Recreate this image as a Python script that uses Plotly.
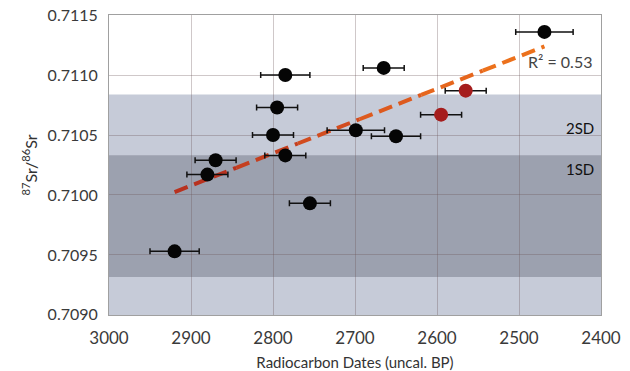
import numpy as np
import plotly.graph_objects as go

# Data
dates = [2469, 2785, 2665, 2795, 2565, 2595, 2800, 2699, 2650, 2785, 2870, 2880, 2755, 2920]
sr = [0.71136, 0.71100, 0.71106, 0.71073, 0.71087, 0.71067, 0.71050, 0.71054,
      0.71049, 0.71033, 0.71029, 0.71017, 0.70993, 0.70953]
date_err = [35, 30, 25, 25, 25, 25, 25, 35, 30, 25, 25, 25, 25, 30]
highlight = [False, False, False, False, True, True, False, False, False, False,
             False, False, False, False]

band_mean = 0.709823
band_sd = 0.000508
x_ticks = [3000, 2900, 2800, 2700, 2600, 2500, 2400]
y_ticks = [0.7090, 0.7095, 0.7100, 0.7105, 0.7110, 0.7115]
r2_label = "R\u00b2 = 0.53"

fig = go.Figure()

# Bands (2SD and 1SD)
fig.add_shape(type="rect", xref="x", yref="y", x0=3000, x1=2400,
              y0=band_mean - 2 * band_sd, y1=band_mean + 2 * band_sd,
              fillcolor="#c6cbd8", line_width=0, layer="below")
fig.add_shape(type="rect", xref="x", yref="y", x0=3000, x1=2400,
              y0=band_mean - band_sd, y1=band_mean + band_sd,
              fillcolor="#9ca1af", line_width=0, layer="below")

# Trend line (least squares) drawn in colour-graded dashed segments
slope, intercept = np.polyfit(dates, sr, 1)
x0, x1 = max(dates), min(dates)
n_seg = 6
cols = ["#b8321f", "#c53f1f", "#d24c1f", "#dd5a1e", "#e6661d", "#ec711c"]
for i in range(n_seg):
    xa = x0 + (x1 - x0) * i / n_seg
    xb = x0 + (x1 - x0) * (i + 1) / n_seg
    fig.add_trace(go.Scatter(
        x=[xa, xb], y=[slope * xa + intercept, slope * xb + intercept],
        mode="lines", line=dict(color=cols[i], width=4, dash="14px,7px"),
        hoverinfo="skip", showlegend=False))

xs_b = [d for d, h in zip(dates, highlight) if not h]
ys_b = [s for s, h in zip(sr, highlight) if not h]
es_b = [e for e, h in zip(date_err, highlight) if not h]
xs_r = [d for d, h in zip(dates, highlight) if h]
ys_r = [s for s, h in zip(sr, highlight) if h]
es_r = [e for e, h in zip(date_err, highlight) if h]

err_style = dict(type="data", thickness=1.5, width=3, color="#111111")
fig.add_trace(go.Scatter(
    x=xs_b, y=ys_b, mode="markers",
    marker=dict(color="#050505", size=14),
    error_x=dict(array=es_b, **err_style), showlegend=False))
fig.add_trace(go.Scatter(
    x=xs_r, y=ys_r, mode="markers",
    marker=dict(color="#a51d1d", size=14),
    error_x=dict(array=es_r, **err_style), showlegend=False))

fig.add_annotation(x=2491, y=0.71111, xref="x", yref="y", text=r2_label,
                   showarrow=False, xanchor="left",
                   font=dict(family="Lato", size=16, color="#444444"))
fig.add_annotation(x=2406, y=0.71056, xref="x", yref="y", text="2SD",
                   showarrow=False, xanchor="right",
                   font=dict(family="Lato", size=15, color="#111111"))
fig.add_annotation(x=2406, y=0.71022, xref="x", yref="y", text="1SD",
                   showarrow=False, xanchor="right",
                   font=dict(family="Lato", size=15, color="#111111"))

# page body has an 8px margin, so the figure is offset by 8px right/down
fig.update_layout(
    width=630, height=371,
    margin=dict(l=101, r=37, t=7, b=64),
    paper_bgcolor="white", plot_bgcolor="white",
    font=dict(family="Lato", size=17, color="#3a3a3a"),
    showlegend=False,
)
grid = "rgba(105,85,88,0.32)"
fig.update_xaxes(
    range=[3000.001, 2399.999], tickvals=x_ticks, ticktext=[str(v) for v in x_ticks],
    showgrid=True, gridcolor=grid, gridwidth=1,
    showline=True, linecolor="#a0a0a0", linewidth=1, mirror=True,
    zeroline=False, ticks="", ticklen=0, ticklabelstandoff=8,
    ticklabeloverflow="allow", automargin=False,
    title=dict(text="Radiocarbon Dates (uncal. BP)", font=dict(size=15, color="#333333"),
               standoff=10),
)
fig.update_yaxes(
    range=[0.708999, 0.711501], tickvals=y_ticks, ticktext=[f"{v:.4f}" for v in y_ticks],
    tickfont=dict(size=16),
    showgrid=True, gridcolor=grid, gridwidth=1,
    showline=True, linecolor="#a0a0a0", linewidth=1, mirror=True,
    zeroline=False, ticks="", ticklen=0, ticklabelstandoff=7,
    ticklabeloverflow="allow", automargin=False,
    title=dict(text="<sup>87</sup>Sr/<sup>86</sup>Sr", font=dict(size=16, color="#333333"),
               standoff=6),
)

fig.write_html("out.html")
